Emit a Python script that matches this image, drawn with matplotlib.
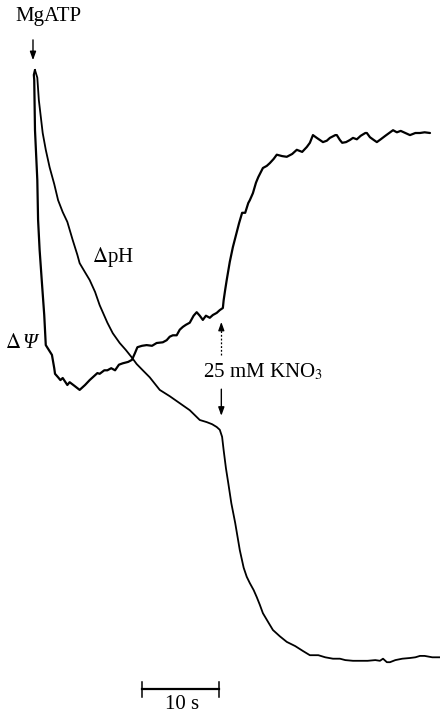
import matplotlib
matplotlib.use("Agg")
import matplotlib.pyplot as plt

plt.rcParams['font.family'] = ['Liberation Serif', 'DejaVu Serif']
plt.rcParams['mathtext.fontset'] = 'stix'

# time (s) and signal (a.u.) for the membrane potential trace (ΔΨ)
psi_t = [0.0, -0.15, -0.1, 0.0, 0.3, 0.4, 0.6, 0.9, 1.2, 1.4, 1.8, 2.2, 2.5, 2.6, 3.0, 3.3, 3.6, 4.2, 4.5,
         5.1, 5.8, 6.5, 7.1, 7.7, 8.1, 8.4, 9.0, 9.4, 9.9, 10.4, 10.9, 11.4, 12.1, 12.6, 13.0, 13.3,
         13.9, 14.5, 15.2, 15.8, 16.6, 17.1, 17.5, 17.9, 18.4, 18.8, 19.2, 19.6, 20.1, 20.6, 21.0,
         21.4, 21.8, 22.2, 22.7, 23.1, 23.6, 24.0, 24.4, 24.5, 24.7, 24.9, 25.3, 25.7, 26.1, 26.5,
         26.9, 27.3, 27.7, 27.9, 28.3, 28.7, 29.0, 29.6, 30.1, 30.5, 31.0, 31.4, 32.1, 32.7, 33.4,
         34.0, 34.7, 35.3, 35.7, 36.1, 36.6, 37.0, 37.4, 37.9, 38.3, 39.0, 39.2, 39.6, 39.9, 40.4,
         40.9, 41.3, 41.8, 42.3, 42.9, 43.1, 43.5, 44.0, 44.4, 44.9, 45.5, 46.0, 46.5, 47.0, 47.5,
         48.1, 48.7, 49.4, 50.0, 50.6, 51.3]
psi_v = [92.0, 91.3, 90.6, 83.4, 76.3, 70.6, 66.3, 61.6, 57.0, 52.7, 52.0, 51.3, 49.4, 48.6, 48.1, 47.7,
         48.0, 47.0, 47.4, 46.9, 46.3, 47.0, 47.7, 48.3, 48.7, 48.6, 49.1, 49.1, 49.4, 49.1, 49.9,
         50.1, 50.3, 50.6, 51.6, 52.4, 52.6, 52.7, 52.6, 53.0, 53.1, 53.4, 53.9, 54.1, 54.1, 54.9,
         55.3, 55.6, 55.9, 56.9, 57.4, 56.9, 56.3, 56.9, 56.6, 57.0, 57.3, 57.7, 58.0, 59.1, 60.6,
         62.0, 64.6, 66.7, 68.4, 70.1, 71.6, 71.6, 73.0, 73.4, 74.4, 75.9, 76.7, 78.0, 78.3, 78.7,
         79.3, 79.9, 79.7, 79.6, 80.0, 80.6, 80.3, 81.0, 81.6, 82.7, 82.3, 82.0, 81.7, 81.9, 82.3,
         82.7, 82.7, 82.0, 81.6, 81.7, 82.0, 82.3, 82.1, 82.6, 83.0, 83.0, 82.4, 82.0, 81.7, 82.1,
         82.6, 83.0, 83.4, 83.1, 83.3, 83.0, 82.7, 83.0, 83.0, 83.1, 83.0]

# time (s) and signal (a.u.) for the pH gradient trace (ΔpH)
ph_t = [0.0, 0.3, 0.5, 1.0, 1.4, 1.9, 2.5, 3.0, 3.6, 4.2, 4.9, 5.5, 5.8, 6.5, 7.1, 7.8, 8.4, 9.4, 10.1,
        11.0, 11.8, 12.6, 13.2, 14.0, 14.9, 16.2, 17.5, 18.8, 20.1, 21.4, 22.3, 23.0, 23.6, 24.0,
        24.3, 24.5, 24.8, 25.1, 25.5, 26.0, 26.6, 27.1, 27.5, 27.9, 28.4, 28.8, 29.2, 29.6, 30.3,
        30.9, 31.8, 32.7, 33.8, 34.8, 35.7, 36.8, 37.7, 38.7, 39.6, 40.3, 41.3, 42.2, 43.2, 44.2,
        44.8, 45.2, 45.7, 46.1, 46.8, 47.7, 48.7, 49.4, 50.0, 50.6, 51.6, 52.6]
ph_v = [92.0, 90.9, 87.7, 83.0, 80.6, 78.1, 75.7, 73.4, 71.7, 70.3, 67.7, 65.6, 64.4, 63.1, 62.0, 60.3,
        58.4, 55.9, 54.4, 53.0, 52.0, 50.9, 50.0, 49.1, 48.1, 46.3, 45.4, 44.4, 43.4, 42.0, 41.7,
        41.4, 41.0, 40.6, 39.6, 37.7, 35.1, 33.0, 30.1, 27.3, 23.4, 20.9, 19.6, 18.7, 17.7, 16.7,
        15.6, 14.4, 13.1, 12.0, 11.1, 10.3, 9.7, 9.0, 8.4, 8.4, 8.1, 7.9, 7.9, 7.7, 7.6, 7.6, 7.6,
        7.7, 7.6, 7.9, 7.4, 7.4, 7.7, 7.9, 8.0, 8.1, 8.3, 8.3, 8.1, 8.1]

add_atp_t = 0.0        # MgATP addition (s)
add_kno3_t = 24.2      # KNO3 addition (s)
scale_start = 13.9
scale_len = 10         # s

fig = plt.figure(figsize=(4.4, 7.14), dpi=100)
ax = fig.add_axes([0, 0, 1, 1])
ax.set_xlim(-4.545, 52.6)
ax.set_ylim(0, 102)
ax.axis('off')

ax.plot(psi_t, psi_v, color='black', lw=1.6, solid_joinstyle='round', solid_capstyle='round')
ax.plot(ph_t, ph_v, color='black', lw=1.3, solid_joinstyle='round')

fs = 15
ax.text(1.7, 99.6, 'MgATP', ha='center', va='center', fontsize=fs)
ax.annotate('', xy=(add_atp_t - 0.26, 93.0), xytext=(add_atp_t - 0.26, 96.7),
            arrowprops=dict(arrowstyle='-|>,head_length=0.5,head_width=0.18', color='black', lw=1.0))

ax.text(10.1, 65.3, r'$\Delta$pH', ha='center', va='center', fontsize=fs)
ax.text(-1.75, 53.0, r'$\Delta$', ha='right', va='center', fontsize=fs)
ax.text(-1.65, 53.0, 'Ψ', ha='left', va='center', fontsize=fs, style='italic')

ax.text(21.8, 48.9, r'25 mM KNO$_3$', ha='left', va='center', fontsize=fs)
# dotted up arrow
ax.plot([add_kno3_t, add_kno3_t], [51.3, 55.0], color='black', lw=0.9, ls=(0, (1.5, 1.5)))
ax.annotate('', xy=(add_kno3_t, 56.4), xytext=(add_kno3_t, 55.0),
            arrowprops=dict(arrowstyle='-|>,head_length=0.5,head_width=0.18', color='black', lw=0.9))
# solid down arrow
ax.annotate('', xy=(add_kno3_t, 42.2), xytext=(add_kno3_t, 46.8),
            arrowprops=dict(arrowstyle='-|>,head_length=0.5,head_width=0.18', color='black', lw=1.0))

# scale bar
ax.plot([scale_start, scale_start + scale_len], [3.57, 3.57], color='black', lw=1.6)
for xx in (scale_start, scale_start + scale_len):
    ax.plot([xx, xx], [2.45, 4.6], color='black', lw=1.1)
ax.text(scale_start + scale_len / 2 + 0.2, 1.35, '10 s', ha='center', va='center', fontsize=fs)

fig.savefig('out.png', dpi=100, facecolor='white')
